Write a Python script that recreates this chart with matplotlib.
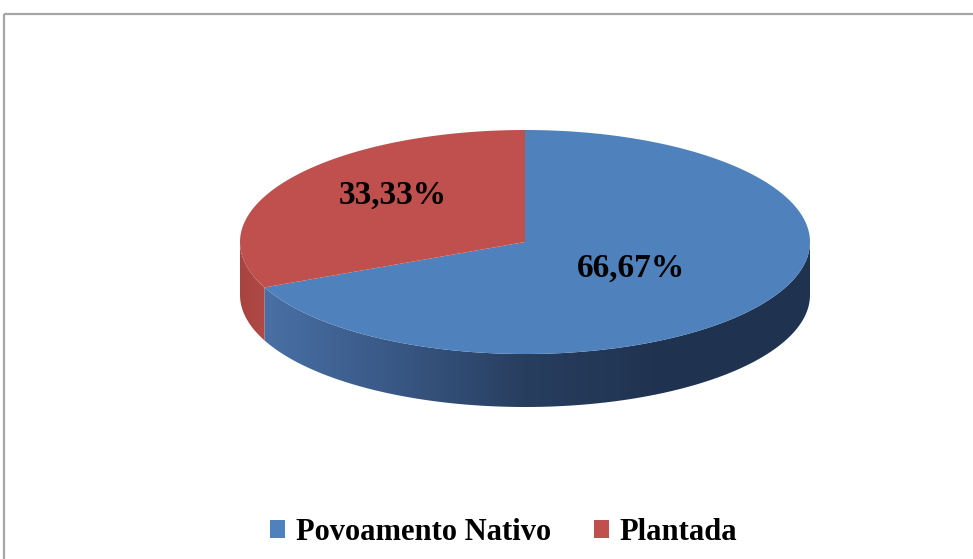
import numpy as np
import matplotlib.pyplot as plt
from matplotlib.patches import Polygon, Rectangle, Patch
from matplotlib.colors import LinearSegmentedColormap

labels = ['Povoamento Nativo', 'Plantada']
values = [66.67, 33.33]
pct_text = ['66,67%', '33,33%']
top_colors = ['#4F81BD', '#C0504D']

# geometry of the 3D pie (pixels)
cx, cy = 525, 242
a, b = 285, 112
depth = 53
persp = 7  # slight perspective warp of angles (degrees)

fig = plt.figure(figsize=(9.73, 5.59), dpi=100)
ax = fig.add_axes([0, 0, 1, 1])
ax.set_xlim(0, 973)
ax.set_ylim(559, 0)
ax.axis('off')

ax.add_patch(Rectangle((4, 14), 975, 560, fill=False, edgecolor='#a6a6a6', lw=1.6))


def warp(t):
    return t + persp * np.sin(np.radians(2 * t))


def pts(t1, t2, dy=0, n=200):
    t = np.radians(np.linspace(t1, t2, n))
    return np.column_stack([cx + a * np.sin(t), cy - b * np.cos(t) + dy])


total = sum(values)
angles = warp(np.concatenate([[0], np.cumsum(values) / total * 360]))

side_cmaps = [
    LinearSegmentedColormap.from_list('bs', ['#4C74AA', '#3A5A88', '#283E5F', '#1F3350', '#1F3350']),
    LinearSegmentedColormap.from_list('rs', ['#A8433F', '#B04A46']),
]

# side walls (front half only)
for i in range(len(values)):
    t1, t2 = max(angles[i], 90), min(angles[i + 1], 270)
    if t2 <= t1:
        continue
    top = pts(t1, t2)
    bot = pts(t2, t1, depth)
    poly = Polygon(np.vstack([top, bot]), closed=True, facecolor='none', edgecolor='none')
    ax.add_patch(poly)
    xs = np.vstack([top, bot])[:, 0]
    grad = np.linspace(0, 1, 256).reshape(1, -1)
    if i == 0:
        x0, x1 = cx - a, cx + a
    else:
        x0, x1 = xs.min(), xs.max()
    im = ax.imshow(grad, cmap=side_cmaps[i], aspect='auto',
                   extent=[x0, x1, cy + b + depth + 5, cy - 5], zorder=1)
    im.set_clip_path(poly)

# top face
for i in range(len(values)):
    arc = pts(angles[i], angles[i + 1])
    ax.add_patch(Polygon(np.vstack([[cx, cy], arc]), closed=True,
                         facecolor=top_colors[i], edgecolor='none', zorder=2))

font = dict(family='Liberation Serif', weight='bold')
ax.text(631, 268, pct_text[0], ha='center', va='center', fontsize=24, zorder=3, **font)
ax.text(393, 195, pct_text[1], ha='center', va='center', fontsize=24, zorder=3, **font)

handles = [Patch(facecolor=c, edgecolor='none') for c in top_colors]
fig.legend(handles, labels, loc='center', bbox_to_anchor=(0.5175, 0.048), ncol=2,
           frameon=False, prop=dict(family='Liberation Serif', weight='bold', size=22),
           handlelength=0.5, handleheight=0.5, handletextpad=0.35, columnspacing=1.4)

fig.savefig('out.png', dpi=100)
